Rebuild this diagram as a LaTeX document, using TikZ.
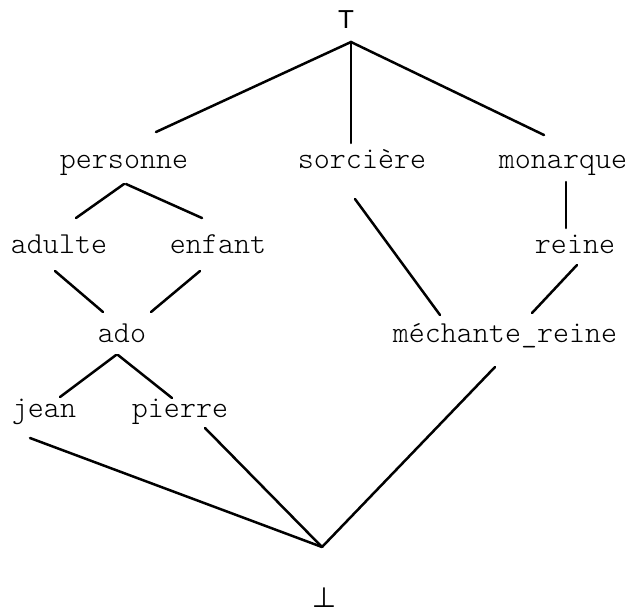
\documentclass[tikz,border=0pt]{standalone}
\usepackage{fontspec}
\setmonofont{Latin Modern Mono Light}
\newfontfamily\lsans{Liberation Sans}
\newfontfamily\dvsans{DejaVu Sans}
\begin{document}
\begin{tikzpicture}[x=1pt,y=-1pt,
  lbl/.style={anchor=base,inner sep=0pt,font=\fontsize{30.5}{32}\ttfamily},
  edge/.style={line width=2.5pt,line cap=round}]
\useasboundingbox (0,0) rectangle (629,614);
% nodes
\node[anchor=base,inner sep=0pt,font=\fontsize{26}{28}\lsans] (top) at (346,28) {T};
\node[lbl] (personne) at (124,168) {personne};
\node[lbl] (sorciere) at (362,168) {sorcière};
\node[lbl] (monarque) at (563,168) {monarque};
\node[lbl] (adulte) at (59,253) {adulte};
\node[lbl] (enfant) at (218,253) {enfant};
\node[lbl] (reine) at (575,253) {reine};
\node[lbl] (ado) at (122,342) {ado};
\node[lbl] (mechante) at (505,342) {méchante\_reine};
\node[lbl] (jean) at (44,417) {jean};
\node[lbl] (pierre) at (180,417) {pierre};
\node[anchor=base,inner sep=0pt,font=\fontsize{28}{30}\dvsans] (bottom) at (324,607) {⊥};
% connector ends
\coordinate (top-s) at (351,42);
\coordinate (personne-n) at (156,132);
\coordinate (sorciere-n) at (351,143);
\coordinate (monarque-n) at (544,135);
\coordinate (personne-sl) at (124,184);
\coordinate (personne-sr) at (126,184);
\coordinate (adulte-n) at (76,218);
\coordinate (enfant-n) at (202,218);
\coordinate (adulte-s) at (55,271);
\coordinate (enfant-s) at (200,271);
\coordinate (ado-nl) at (103,312);
\coordinate (ado-nr) at (151,312);
\coordinate (monarque-s) at (566,182);
\coordinate (reine-n) at (566,228);
\coordinate (sorciere-s) at (355,199);
\coordinate (mechante-nl) at (440,315);
\coordinate (reine-s) at (577,265);
\coordinate (mechante-nr) at (532,313);
\coordinate (ado-sl) at (116,355);
\coordinate (ado-sr) at (118,355);
\coordinate (jean-n) at (60,397);
\coordinate (pierre-n) at (172,398);
\coordinate (jean-s) at (30,438);
\coordinate (pierre-s) at (205,428);
\coordinate (mechante-s) at (495,367);
\coordinate (bottom-n) at (322,547);
% connectors
\draw[edge] (personne-n) -- (top-s) -- (monarque-n);
\draw[edge] (top-s) -- (sorciere-n);
\draw[edge] (adulte-n) -- (personne-sl);
\draw[edge] (personne-sr) -- (enfant-n);
\draw[edge] (adulte-s) -- (ado-nl);
\draw[edge] (enfant-s) -- (ado-nr);
\draw[edge] (monarque-s) -- (reine-n);
\draw[edge] (sorciere-s) -- (mechante-nl);
\draw[edge] (reine-s) -- (mechante-nr);
\draw[edge] (jean-n) -- (ado-sl);
\draw[edge] (ado-sr) -- (pierre-n);
\draw[edge] (jean-s) -- (bottom-n);
\draw[edge] (pierre-s) -- (bottom-n);
\draw[edge] (mechante-s) -- (bottom-n);
\end{tikzpicture}
\end{document}
